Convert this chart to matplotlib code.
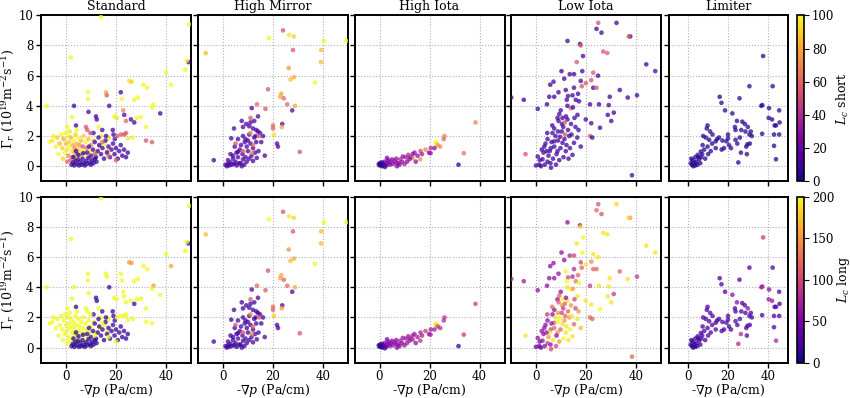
import numpy as np
import matplotlib
matplotlib.use("Agg")
import matplotlib.pyplot as plt

plt.rcParams["font.family"] = "DejaVu Serif"
plt.rcParams["mathtext.fontset"] = "dejavuserif"
plt.rcParams["font.size"] = 9

# configurations
titles = ["Standard", "High Mirror", "High Iota", "Low Iota", "Limiter"]

# points : (-grad p, Gamma_r, L_c short, L_c long)
standard = [
    (14, 9.9, 100, 200), (49.3, 9.4, 100, 200), (2, 7.2, 100, 200), (49, 6.9, 10, 10),
    (48.3, 7.0, 100, 200), (47.7, 6.4, 100, 200), (40, 6.2, 100, 200), (42, 5.4, 100, 160),
    (25.3, 5.65, 95, 150), (26.2, 5.6, 90, 150), (31, 5.4, 100, 200), (32.5, 5.2, 100, 200),
    (8.8, 4.9, 100, 200), (16, 4.9, 80, 200), (16.3, 4.7, 55, 200), (21.9, 4.9, 10, 200),
    (8.7, 4.45, 100, 200), (22.4, 4.45, 100, 200), (27.3, 4.4, 100, 200), (28.7, 4.55, 100, 200),
    (-7.7, 4.0, 100, 200), (3.2, 4.0, 10, 200), (17.3, 4.0, 10, 15), (35, 4.1, 100, 150),
    (34.5, 3.9, 100, 200), (9, 3.6, 10, 200), (2.4, 3.25, 100, 200), (12, 3.3, 10, 15),
    (12.3, 3.1, 10, 15), (19.3, 3.3, 100, 200), (20.3, 3.2, 95, 200), (22.9, 3.7, 70, 200),
    (23.3, 3.4, 15, 200), (26, 3.1, 10, 200), (24, 3.0, 60, 200), (27.3, 2.9, 10, 15),
    (28.3, 3.2, 100, 200), (30, 3.25, 100, 200), (37.7, 3.5, 10, 200), (32, 2.6, 100, 200),
    (18.7, 2.4, 10, 15), (19, 2.1, 10, 15), (22, 2.1, 55, 200), (23.3, 2.1, 55, 200),
    (24, 2.2, 55, 200), (26.7, 1.9, 100, 200), (24.7, 1.85, 95, 200), (32, 1.7, 55, 200),
    (34.4, 1.6, 55, 200), (13, 2.6, 100, 200), (8.5, 2.4, 55, 200), (4, 2.7, 10, 15),
    (4.3, 2.4, 100, 200), (0.5, 2.6, 100, 200),
    (-6.5, 1.6, 100, 200), (-5.5, 1.7, 95, 200), (-5, 2.0, 100, 200), (-3.5, 1.9, 90, 200),
    (-4, 1.3, 100, 200), (-2.5, 1.5, 85, 200), (-2, 2.1, 100, 200), (-1.5, 1.2, 90, 200),
    (-1, 1.8, 80, 200), (-0.5, 0.9, 100, 200), (0, 1.5, 85, 200), (0.3, 1.1, 95, 200),
    (0.8, 2.0, 100, 200), (1, 0.7, 70, 200), (1.2, 1.6, 90, 200), (1.5, 1.3, 100, 200),
    (1.8, 0.4, 60, 200), (2, 1.9, 85, 200), (2.3, 1.0, 95, 200), (2.6, 0.6, 55, 200),
    (2.8, 1.4, 80, 200), (3, 1.7, 100, 200), (3.3, 0.9, 85, 200), (3.5, 1.2, 70, 200),
    (3.8, 2.1, 90, 200), (4, 0.5, 100, 200), (4.2, 1.5, 85, 200), (4.5, 0.8, 60, 200),
    (4.8, 1.9, 100, 200), (5, 1.1, 90, 200), (5.3, 1.4, 75, 200), (5.6, 0.7, 95, 200),
    (6, 1.7, 85, 200), (6.3, 1.0, 100, 200), (6.7, 1.3, 55, 200), (7, 2.0, 90, 200),
    (7.4, 0.9, 80, 200), (7.8, 1.6, 100, 200), (8.2, 1.2, 65, 200), (8.6, 0.6, 90, 200),
    (9, 1.8, 85, 200), (9.5, 1.0, 100, 200), (10, 1.4, 70, 200), (-3, 0.8, 100, 200),
    (-1.2, 0.5, 90, 200), (0.5, 0.3, 60, 200), (1.5, 2.3, 95, 200), (-0.3, 2.2, 100, 200),
    (11, 1.7, 90, 200), (12, 0.9, 100, 200), (13.5, 1.3, 85, 200), (14, 2.0, 95, 200),
    (15.5, 1.5, 100, 200), (16.5, 1.0, 85, 200), (17, 1.9, 90, 200),
    (2.2, 0.1, 8, 10), (2.8, 0.25, 8, 10), (3.3, 0.05, 8, 10), (3.8, 0.35, 8, 10),
    (4.3, 0.15, 8, 10), (4.8, 0.45, 8, 10), (5.2, 0.05, 8, 10), (5.7, 0.3, 8, 10),
    (6.2, 0.1, 8, 10), (6.6, 0.5, 8, 10), (7.1, 0.2, 8, 10), (7.5, 0.05, 8, 10),
    (8, 0.35, 8, 10), (8.5, 0.15, 8, 10), (9, 0.55, 8, 10), (9.5, 0.25, 8, 10),
    (10, 0.1, 8, 10), (10.5, 0.4, 8, 10), (11, 0.2, 8, 10), (11.6, 0.5, 8, 10),
    (12.2, 0.3, 8, 10), (3, 0.6, 8, 10), (5, 0.75, 8, 10), (6.8, 0.85, 8, 10), (4, 1.0, 8, 10),
    (8.5, 0.9, 10, 15), (9.2, 1.3, 10, 15), (10, 0.7, 10, 15), (10.8, 1.1, 10, 15),
    (11.5, 1.6, 10, 15), (12, 0.6, 10, 15), (12.7, 1.0, 10, 15), (13.3, 1.4, 10, 15),
    (14, 0.8, 10, 15), (14.6, 1.2, 10, 15), (15.2, 0.5, 10, 15), (15.8, 1.7, 10, 15),
    (16.4, 0.9, 10, 15), (17, 1.3, 10, 15), (17.6, 0.6, 10, 15), (18.2, 1.1, 10, 15),
    (18.8, 1.5, 10, 15), (19.4, 0.8, 10, 15), (20, 1.2, 10, 15), (20.7, 0.5, 10, 15),
    (21.3, 1.0, 10, 15), (21.9, 1.4, 10, 15), (22.5, 0.7, 10, 15), (23.2, 1.1, 10, 15),
    (24, 0.6, 10, 15), (24.7, 0.9, 10, 15), (13, 1.9, 10, 15), (16, 2.0, 10, 15),
    (19.5, 1.8, 10, 15), (11, 2.2, 10, 15), (14.5, 2.4, 10, 15),
    (11.5, 0.8, 55, 200), (17, 0.7, 60, 200), (20, 0.4, 55, 200), (9.8, 2.2, 50, 200),
    (14.5, 1.6, 60, 200), (8, 2.6, 55, 200), (20.5, 2.0, 55, 200),
]

high_mirror = [
    (24, 9.0, 55, 110), (26.4, 8.7, 95, 190), (28.3, 8.6, 90, 185), (18.4, 8.5, 100, 200),
    (28, 7.7, 55, 110), (40.3, 8.3, 100, 200), (49.3, 8.3, 100, 200), (39.3, 7.7, 85, 170),
    (39.2, 6.9, 85, 170), (-6.9, 7.5, 85, 170), (26.3, 6.5, 75, 150), (28.4, 5.9, 80, 160),
    (27, 5.75, 85, 170), (36.8, 5.55, 100, 200), (18, 5.1, 55, 110), (23.3, 4.8, 80, 160),
    (22.9, 4.6, 80, 160), (24.3, 4.5, 60, 120), (25.7, 4.1, 60, 120), (28.8, 4.0, 80, 160),
    (27.7, 3.7, 15, 25), (13.6, 4.1, 60, 120), (17, 3.8, 55, 110), (11.5, 3.85, 15, 25),
    (11, 3.2, 55, 110), (14, 3.3, 12, 25), (20, 2.7, 60, 120), (20, 2.5, 60, 120),
    (23.7, 2.8, 15, 25), (23.5, 2.6, 80, 160), (20.4, 2.1, 95, 180), (21.6, 1.5, 15, 25),
    (22, 1.3, 15, 25), (30.7, 0.95, 55, 110), (-3.7, 0.4, 12, 20),
    (4.4, 2.5, 12, 20), (8, 2.6, 12, 20), (9.3, 2.8, 12, 20), (10.5, 2.65, 12, 20),
    (12, 2.5, 12, 20), (13.3, 2.4, 12, 20), (14, 2.3, 12, 20), (8, 2.0, 12, 20),
    (8.7, 1.6, 12, 20), (3.3, 1.85, 12, 20), (4.7, 1.3, 12, 20), (6.7, 1.1, 12, 20),
    (10, 1.0, 12, 20), (12, 1.2, 12, 20), (13.3, 1.6, 12, 20), (15.3, 1.6, 12, 20),
    (16, 2.0, 12, 20), (16.7, 0.7, 12, 20), (10.5, 2.1, 12, 20), (12.5, 1.9, 12, 20),
    (14.8, 2.2, 12, 20), (6, 1.8, 12, 20), (7.2, 1.4, 12, 20), (9.5, 1.3, 12, 20),
    (11, 1.5, 12, 20), (5.4, 0.9, 12, 20), (7.8, 0.8, 12, 20), (9, 0.6, 12, 20),
    (11.4, 0.7, 12, 20), (12.8, 0.9, 12, 20), (14.2, 1.0, 12, 20), (3, 0.8, 12, 20),
    (4, 0.5, 12, 20), (5, 0.3, 12, 20), (6, 0.6, 12, 20), (7, 0.2, 12, 20),
    (8, 0.45, 12, 20), (9.5, 0.3, 12, 20), (10.5, 0.5, 12, 20), (12, 0.35, 12, 20),
    (13.5, 0.55, 12, 20), (1, 0.1, 12, 20), (1.5, 0.0, 12, 20), (2, 0.15, 12, 20),
    (2.5, 0.05, 12, 20), (3, 0.25, 12, 20), (3.5, 0.1, 12, 20), (4.5, 0.15, 12, 20),
    (5.5, 0.05, 12, 20), (6.5, 0.2, 12, 20), (7.5, 0.0, 12, 20), (8.5, 0.1, 12, 20),
    (2, 0.4, 12, 20), (4, 0.7, 12, 20), (6, 0.95, 12, 20), (9, 1.8, 12, 20),
    (11, 2.9, 12, 20), (12.5, 3.0, 12, 20), (7.5, 3.0, 12, 20), (13, 2.0, 12, 20),
    (10, 1.7, 12, 20),
    (11, 2.2, 70, 140), (12, 1.4, 60, 120), (8, 1.0, 55, 110), (14.5, 2.0, 55, 110),
    (11.5, 0.9, 70, 140), (5, 1.5, 55, 110),
]

high_iota = [
    (38.4, 2.9, 70, 95), (33.7, 0.86, 65, 90), (31.6, 0.1, 5, 10), (26, 2.0, 70, 90),
    (25.7, 1.8, 60, 80), (22.7, 1.6, 100, 200), (22.4, 1.5, 100, 190), (23.3, 1.4, 75, 90),
    (24.3, 1.3, 70, 85), (22, 1.2, 30, 70), (20.4, 0.86, 30, 70), (19.8, 0.9, 30, 70),
    (18.4, 1.1, 70, 90), (16.4, 1.0, 50, 80), (16.3, 0.46, 70, 85), (15.2, 0.7, 30, 70),
    (14, 0.9, 30, 70), (13.3, 0.8, 30, 65), (13.3, 0.53, 70, 80), (12.3, 0.6, 35, 70),
    (12, 0.46, 30, 65), (11, 0.3, 30, 65), (10.5, 0.6, 35, 70), (9.3, 0.64, 30, 65),
    (9, 0.3, 30, 60), (8.3, 0.45, 40, 70), (7.5, 0.2, 30, 60), (6.7, 0.5, 30, 60),
    (6.7, 0.24, 30, 60), (6, 0.35, 35, 60), (5.3, 0.15, 25, 55), (5, 0.45, 30, 60),
    (4.5, 0.3, 35, 60), (4, 0.1, 25, 55), (3.5, 0.4, 30, 60), (3, 0.2, 30, 55),
    (2.5, 0.05, 15, 40), (2, 0.3, 20, 45), (1.5, 0.15, 10, 30), (1, 0.0, 5, 10),
    (0.5, 0.1, 5, 10), (0, 0.05, 5, 10), (0.3, 0.2, 5, 10), (0.8, 0.25, 8, 20),
    (1.2, 0.05, 8, 20), (-0.3, 0.15, 5, 10), (2.2, -0.05, 10, 30), (3.8, 0.25, 30, 60),
    (7, 0.0, 25, 55), (8, 0.1, 30, 60), (10, 0.15, 35, 65), (11.5, 0.75, 40, 70),
    (14.5, 0.3, 30, 60), (20.5, 1.2, 40, 70), (17, 0.8, 35, 70), (3, 0.55, 25, 55),
]

low_iota = [
    (24.9, 9.5, 55, 110), (32.2, 9.5, 10, 180), (24.2, 9.1, 10, 120), (26.2, 8.85, 10, 110),
    (37.7, 8.6, 10, 150), (37.1, 8.6, 55, 180), (12.6, 8.3, 10, 60), (17.6, 8.1, 10, 60),
    (17.9, 8.0, 55, 190), (26.9, 7.6, 55, 190), (28.5, 7.5, 55, 190), (18.8, 7.3, 10, 200),
    (16.3, 6.9, 55, 190), (44.1, 6.75, 10, 190), (47.7, 6.3, 10, 190), (10.2, 6.3, 10, 60),
    (13.5, 6.1, 10, 80), (15.2, 6.1, 10, 100), (18.5, 6.3, 10, 200), (22.9, 6.2, 55, 190),
    (11.3, 5.8, 10, 60), (24.8, 6.0, 10, 190), (7, 5.6, 10, 60), (5.7, 5.4, 10, 60),
    (17.9, 5.65, 10, 100), (19.9, 5.5, 55, 190), (22.1, 5.7, 55, 140), (22.9, 5.2, 10, 120),
    (18.3, 5.3, 55, 120), (24.2, 5.2, 55, 120), (33.5, 5.05, 10, 120), (9, 4.9, 10, 60),
    (11.9, 5.05, 10, 200), (15.2, 5.2, 10, 80), (5.3, 4.6, 10, 60), (7.3, 4.6, 10, 60),
    (12.8, 4.65, 10, 100), (14.6, 4.7, 10, 80), (16.8, 4.8, 10, 120), (29.5, 4.6, 10, 190),
    (40.4, 4.7, 10, 90), (36.7, 4.55, 10, 190), (-4.9, 4.4, 10, 70), (-9.9, 4.55, 10, 70),
    (4.4, 4.1, 10, 60), (12.3, 4.4, 10, 200), (15.9, 4.4, 10, 130), (17.2, 4.3, 10, 200),
    (21.6, 4.1, 10, 90), (25.2, 4.1, 10, 190), (29.1, 4.05, 10, 190), (0.7, 3.8, 10, 60),
    (12.6, 4.0, 10, 190), (13.9, 3.85, 55, 200), (14.8, 3.9, 10, 150), (9.9, 3.7, 10, 60),
    (16.6, 3.4, 10, 190), (9.3, 3.45, 10, 120), (31.1, 3.55, 10, 90), (28.7, 3.4, 10, 190),
    (8.6, 3.2, 10, 60), (10.6, 3.2, 10, 200), (12.6, 3.1, 10, 190), (15.4, 3.2, 10, 100),
    (19.9, 3.1, 10, 190), (30.1, 3.0, 10, 190), (22.1, 2.85, 10, 190), (25.6, 2.55, 10, 200),
    (10.4, 2.8, 10, 150),
    (7.3, 2.5, 10, 60), (8.8, 2.3, 10, 150), (10.9, 2.6, 10, 90), (6.6, 2.2, 10, 60),
    (9.6, 1.95, 10, 200), (11.7, 2.1, 55, 120), (13.3, 2.0, 10, 150), (4.6, 1.8, 10, 60),
    (7.3, 1.65, 10, 120), (10.6, 1.55, 10, 190), (15.2, 1.55, 10, 120), (17.9, 1.3, 10, 170),
    (21.6, 2.0, 55, 120), (22.5, 1.9, 10, 120), (-4.2, 0.8, 55, 190), (3.3, 1.3, 10, 60),
    (5.9, 1.2, 10, 100), (8.6, 1.0, 10, 150), (11.9, 1.0, 10, 190), (14.6, 0.75, 10, 190),
    (0.7, 0.64, 10, 60), (2.6, 0.46, 10, 60), (4.6, 0.3, 10, 100), (1.3, 0.1, 10, 40),
    (0, 0.05, 10, 40), (2, 0.0, 10, 40), (6, -0.1, 10, 100), (38.4, -0.6, 10, 120),
    (3, 0.9, 10, 60), (3.8, 1.5, 10, 60), (4.5, 2.2, 10, 90), (5, 0.7, 10, 150),
    (5.5, 1.0, 10, 190), (6.2, 1.6, 10, 60), (6.8, 0.5, 10, 190), (7.3, 1.3, 10, 120),
    (7.8, 2.0, 10, 190), (8.2, 0.8, 10, 60), (8.8, 1.7, 10, 200), (9.3, 0.4, 10, 150),
    (9.8, 1.2, 10, 120), (10.3, 2.3, 10, 100), (11, 0.6, 10, 200), (11.4, 1.8, 10, 150),
    (12.2, 1.4, 10, 190), (12.8, 2.4, 10, 120), (13.6, 1.2, 10, 200), (14.2, 2.1, 10, 190),
    (2.3, 1.1, 10, 60), (1.5, 0.4, 10, 50), (3.5, 0.1, 10, 60), (4.2, 1.0, 10, 60),
    (6.5, 2.7, 10, 120), (9, 3.0, 10, 120), (12, 3.3, 10, 60), (15.8, 2.6, 10, 100),
    (14, 2.8, 10, 150), (16.5, 1.9, 10, 190), (11.5, 2.9, 55, 120), (17, 2.4, 10, 150),
    (13, 0.5, 10, 190), (5.8, 0.2, 10, 60), (8, 0.1, 10, 100),
]

limiter = [
    (37.7, 7.3, 5, 90), (30.8, 5.3, 5, 25), (42.5, 5.3, 5, 25), (15.8, 4.6, 5, 25),
    (25.8, 4.5, 5, 25), (16.7, 4.2, 5, 25), (18.5, 3.7, 5, 25), (36.8, 4.0, 5, 70),
    (37.3, 4.05, 5, 70), (40.7, 3.85, 5, 60), (45.8, 3.7, 5, 25), (22.2, 3.5, 5, 60),
    (40.5, 3.2, 5, 70), (42.2, 3.1, 5, 65), (43.5, 2.7, 5, 25), (44.2, 2.7, 5, 25),
    (9.7, 2.7, 5, 25), (27.2, 2.95, 5, 25), (28.5, 2.8, 5, 25), (23.5, 2.6, 5, 25),
    (30, 2.6, 5, 60), (23.8, 2.4, 5, 25), (26.7, 2.4, 5, 25), (28.8, 2.3, 5, 25),
    (31.5, 2.3, 5, 25), (30.8, 2.1, 5, 25), (43.2, 2.1, 5, 25), (45.8, 2.1, 5, 25),
    (37.2, 2.15, 5, 25), (9.3, 2.5, 5, 25), (12.2, 2.1, 5, 25), (8.8, 1.9, 5, 25),
    (15.5, 1.9, 5, 25), (10.5, 1.75, 5, 25), (13.8, 1.65, 5, 25), (17.2, 1.7, 5, 25),
    (19.2, 1.65, 5, 25), (20, 1.85, 5, 25), (23.8, 1.75, 5, 25), (24.7, 1.5, 5, 25),
    (29.2, 1.3, 5, 25), (29.8, 1.45, 5, 25), (31, 1.5, 5, 25), (26.5, 0.9, 5, 80),
    (29.5, 0.8, 5, 25), (25.2, 0.25, 5, 80), (43.2, 1.35, 5, 25), (44.2, 0.46, 5, 80),
    (7.2, 1.4, 5, 25), (9.7, 1.3, 5, 25), (11.3, 1.0, 5, 25), (13.8, 1.2, 5, 25),
    (16.8, 1.1, 5, 25), (6.3, 0.97, 5, 20), (4.7, 0.75, 5, 20), (6.5, 0.6, 5, 20),
    (5.5, 0.46, 5, 20), (3, 0.24, 5, 15), (1.8, 0.1, 5, 10), (2.5, 0.0, 5, 10),
    (3.5, 0.05, 5, 10), (4, 0.3, 5, 15), (1.2, 0.2, 5, 10), (2.2, 0.4, 5, 15),
    (4.5, 0.1, 5, 15), (5, 0.6, 5, 20), (6, 0.2, 5, 20), (7, 0.8, 5, 20),
    (8, 1.1, 5, 25), (8.5, 0.5, 5, 20), (10, 0.8, 5, 25), (12, 1.5, 5, 25),
    (14.5, 1.8, 5, 25), (18, 1.2, 5, 25), (20.5, 1.4, 5, 25), (3.5, 0.6, 5, 15),
    (1.5, 0.5, 5, 10), (7.5, 2.0, 5, 25), (11, 2.3, 5, 25), (20, 2.1, 5, 25),
    (21.5, 1.2, 5, 25), (26, 1.9, 5, 25), (24.5, 3.0, 5, 60), (32, 2.0, 5, 25),
    (46, 2.9, 5, 25),
]

configs = [standard, high_mirror, high_iota, low_iota, limiter]
cbar_labels = [r"$L_c$ short", r"$L_c$ long"]
cbar_max = [100, 200]
cbar_ticks = [[0, 20, 40, 60, 80, 100], [0, 50, 100, 150, 200]]

fig = plt.figure(figsize=(8.5, 3.98), dpi=100)
W, H = 850.0, 398.0
col_left = [41, 198, 354.5, 511, 668.5]
col_width = [150, 150, 150, 150, 119]
row_top = [15.3, 196.7]
row_h = 166

for r in range(2):
    sc = None
    for c in range(5):
        ax = fig.add_axes([col_left[c] / W, 1 - (row_top[r] + row_h) / H,
                           col_width[c] / W, row_h / H])
        pts = np.array(configs[c], dtype=float)
        sc = ax.scatter(pts[:, 0], pts[:, 1], c=pts[:, 2 + r], cmap="plasma",
                        vmin=0, vmax=cbar_max[r], s=11, alpha=0.75,
                        linewidths=0, zorder=3)
        ax.set_xlim(-10, 50)
        ax.set_ylim(-1, 10)
        ax.set_xticks([0, 20, 40])
        ax.set_yticks([0, 2, 4, 6, 8, 10])
        ax.grid(True, linestyle=":", color="#b0b0b0", linewidth=0.8)
        for sp in ax.spines.values():
            sp.set_linewidth(1.4)
        ax.tick_params(direction="out", length=3.5, width=1, labelsize=8.5, pad=2)
        if r == 0:
            ax.set_title(titles[c], fontsize=9, pad=3.5)
            ax.tick_params(labelbottom=False)
        else:
            ax.set_xlabel(r"-$\nabla p$ (Pa/cm)", fontsize=9, labelpad=-1)
        if c == 0:
            ax.set_ylabel(r"$\Gamma_r$ ($10^{19}$m$^{-2}$s$^{-1}$)", fontsize=9)
            ax.yaxis.set_label_coords(-0.162, 0.5)
        else:
            ax.tick_params(labelleft=False)
    cax = fig.add_axes([796.7 / W, 1 - (row_top[r] + row_h) / H, 7.6 / W, row_h / H])
    cb = fig.colorbar(sc, cax=cax)
    cb.solids.set_alpha(1)
    cb.set_ticks(cbar_ticks[r])
    cb.ax.tick_params(labelsize=8.5, length=3.5, pad=2)
    cb.set_label(cbar_labels[r], fontsize=9)
    cb.ax.yaxis.set_label_coords(5.0, 0.5)
    cb.outline.set_linewidth(1.2)

fig.savefig("out.png", dpi=100)
